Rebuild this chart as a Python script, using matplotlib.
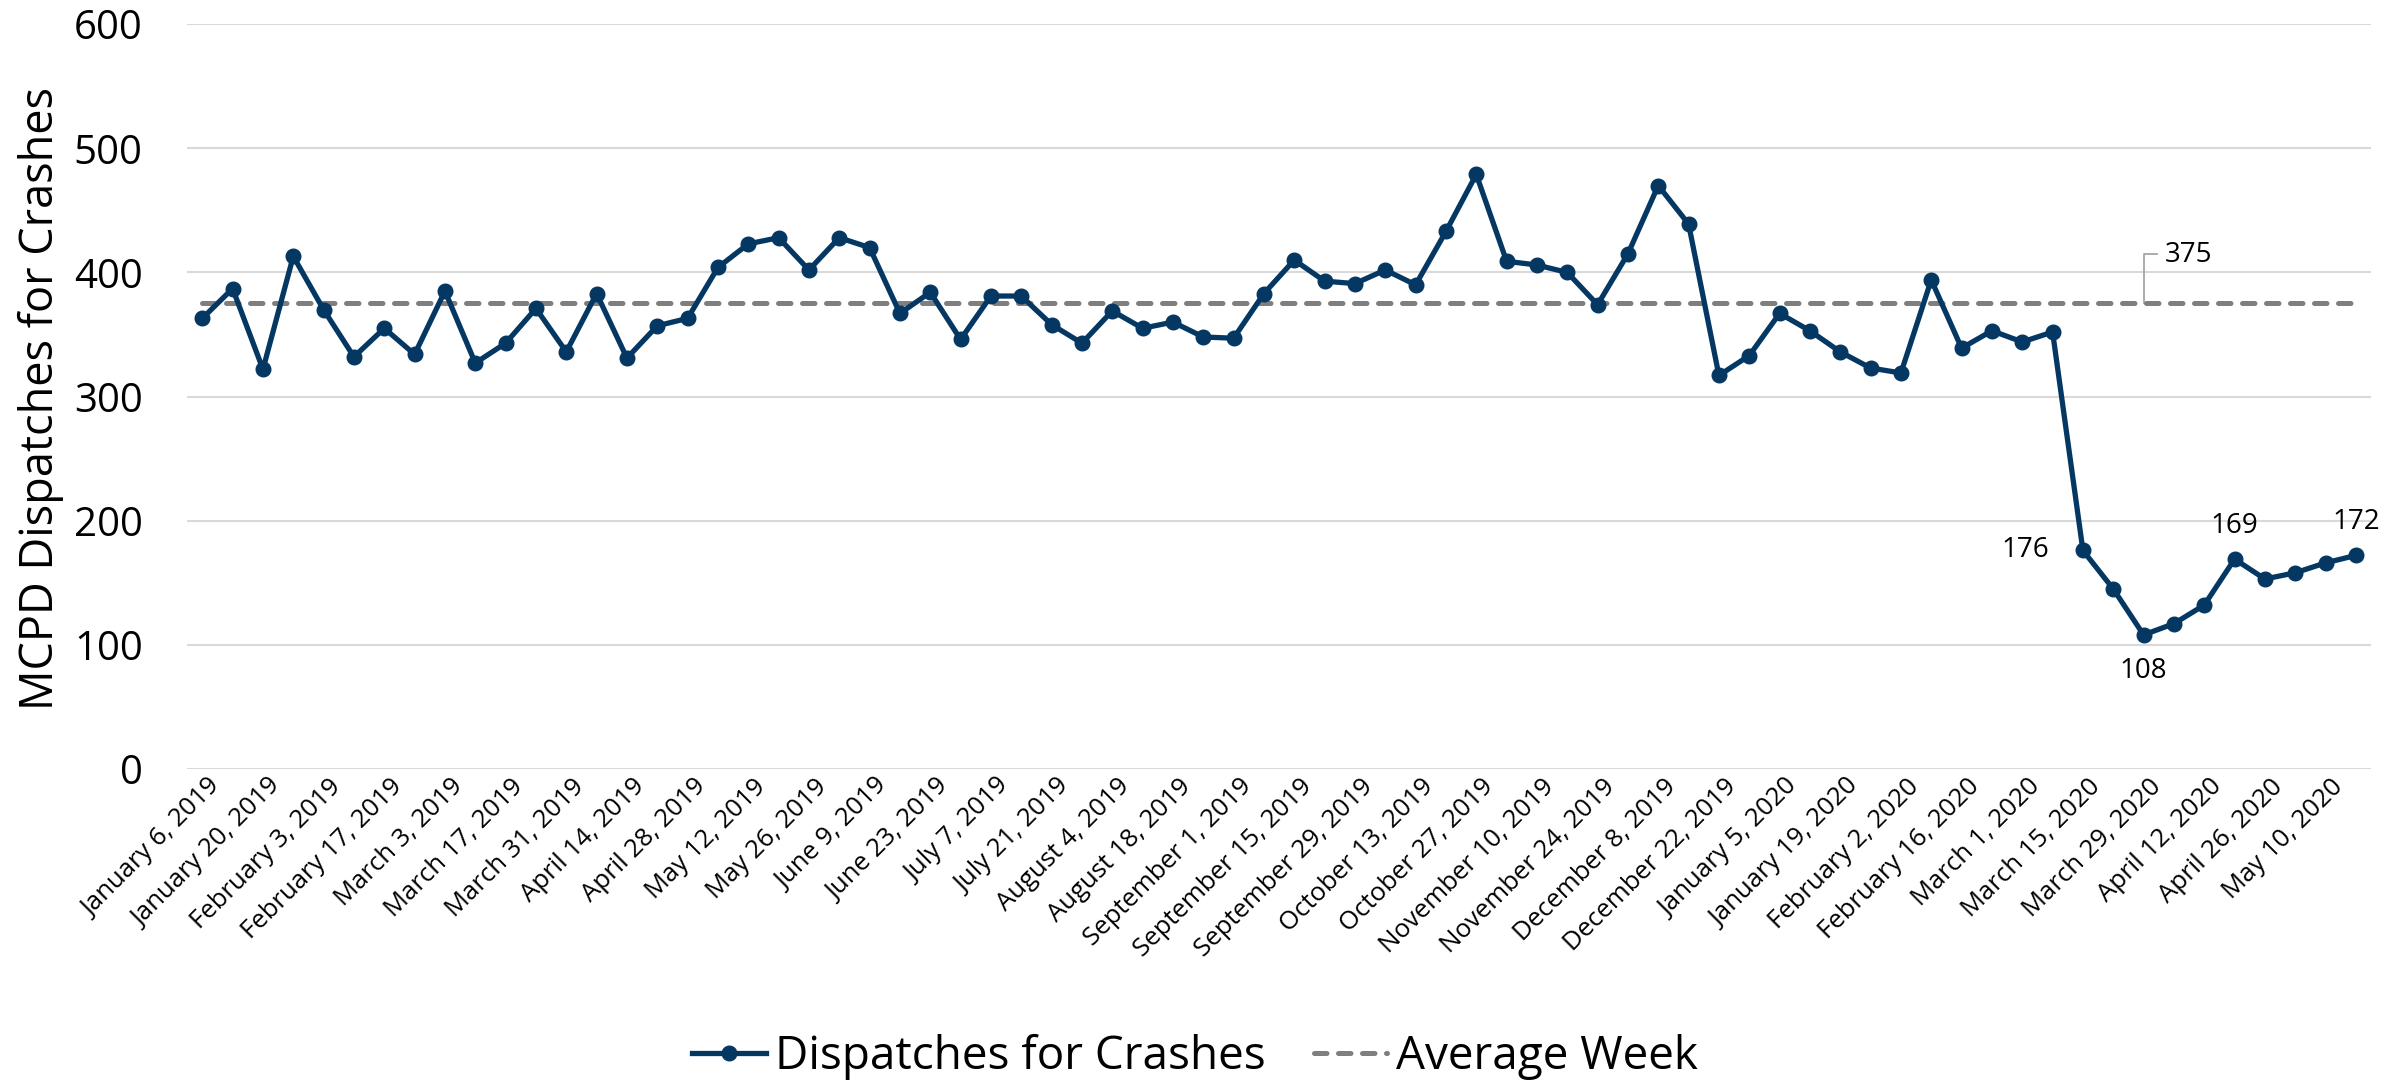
import matplotlib.pyplot as plt
import matplotlib.transforms as mtransforms
import numpy as np

plt.rcParams['font.family'] = ['Open Sans', 'DejaVu Sans']

# weekly MCPD dispatches for crashes, week of Jan 6 2019 .. May 17 2020
dispatches = [363, 387, 322, 413, 370, 332, 355, 334, 385, 327, 343, 371,
              336, 383, 331, 357, 363, 404, 423, 428, 402, 428, 420, 367,
              384, 346, 381, 381, 358, 343, 369, 355, 360, 348, 347, 383,
              410, 393, 391, 402, 390, 433, 479, 409, 406, 400, 374, 415,
              470, 439, 317, 333, 367, 353, 336, 323, 319, 394, 339, 353,
              344, 352, 176, 145, 108, 117, 132, 169, 153, 158, 166, 172]
average_week = 375

# every second week gets a label
tick_labels = ['January 6, 2019', 'January 20, 2019', 'February 3, 2019',
               'February 17, 2019', 'March 3, 2019', 'March 17, 2019',
               'March 31, 2019', 'April 14, 2019', 'April 28, 2019',
               'May 12, 2019', 'May 26, 2019', 'June 9, 2019', 'June 23, 2019',
               'July 7, 2019', 'July 21, 2019', 'August 4, 2019',
               'August 18, 2019', 'September 1, 2019', 'September 15, 2019',
               'September 29, 2019', 'October 13, 2019', 'October 27, 2019',
               'November 10, 2019', 'November 24, 2019', 'December 8, 2019',
               'December 22, 2019', 'January 5, 2020', 'January 19, 2020',
               'February 2, 2020', 'February 16, 2020', 'March 1, 2020',
               'March 15, 2020', 'March 29, 2020', 'April 12, 2020',
               'April 26, 2020', 'May 10, 2020']

# labelled points: index -> placement
labelled = {62: 'left', 64: 'below', 67: 'above', 71: 'above'}

navy = '#053763'
gray = '#7F7F7F'

x = np.arange(len(dispatches))

fig = plt.figure(figsize=(24.05, 10.86), dpi=100)
ax = fig.add_axes([0.0778, 0.292, 0.9081, 0.6857])

ax.plot(x, dispatches, color=navy, linewidth=3.8, marker='o', markersize=10.5,
        solid_joinstyle='round', zorder=3, label='Dispatches for Crashes')
ax.plot([x[0], x[-1]], [average_week, average_week], color=gray,
        linewidth=3.6, dashes=(2.5, 2.3), dash_capstyle='round',
        zorder=2, label='Average Week')

# data labels
for i, pos in labelled.items():
    v = dispatches[i]
    if pos == 'left':
        ax.annotate(str(v), (x[i], v), xytext=(-24, 0), textcoords='offset points',
                    ha='right', va='center', fontsize=20)
    elif pos == 'below':
        ax.annotate(str(v), (x[i], v), xytext=(0, -16), textcoords='offset points',
                    ha='center', va='top', fontsize=20)
    else:
        ax.annotate(str(v), (x[i], v), xytext=(0, 14), textcoords='offset points',
                    ha='center', va='bottom', fontsize=20)

# label for the average line with a leader
ax.plot([64, 64, 64.45], [average_week, 415, 415], color='#A6A6A6', linewidth=1.3, zorder=1)
ax.text(64.7, 414, str(average_week), ha='left', va='center', fontsize=20)

ax.set_xlim(-0.5, len(dispatches) - 0.5)
ax.set_ylim(0, 600)
ax.set_yticks(range(0, 601, 100))
ax.tick_params(axis='y', length=0, pad=32, labelsize=29)
ax.set_xticks(x[::2])
ax.set_xticklabels(tick_labels, rotation=45, ha='right', va='center',
                   rotation_mode='anchor', fontsize=18.5)
ax.tick_params(axis='x', length=0, pad=10)
shift = mtransforms.ScaledTranslation(0.14, 0, fig.dpi_scale_trans)
for lbl in ax.get_xticklabels():
    lbl.set_transform(lbl.get_transform() + shift)
ax.grid(axis='y', color='#D9D9D9', linewidth=1.5)
ax.set_axisbelow(True)
for s in ax.spines.values():
    s.set_visible(False)

fig.text(0.017, 0.633, 'MCPD Dispatches for Crashes', rotation=90,
         ha='center', va='center', fontsize=32.5)

fig.legend(loc='center', bbox_to_anchor=(0.497, 0.027), ncol=2, frameon=False,
           fontsize=33, handlelength=1.6, handletextpad=0.2, columnspacing=1.05)

plt.savefig('out.png', dpi=100)
